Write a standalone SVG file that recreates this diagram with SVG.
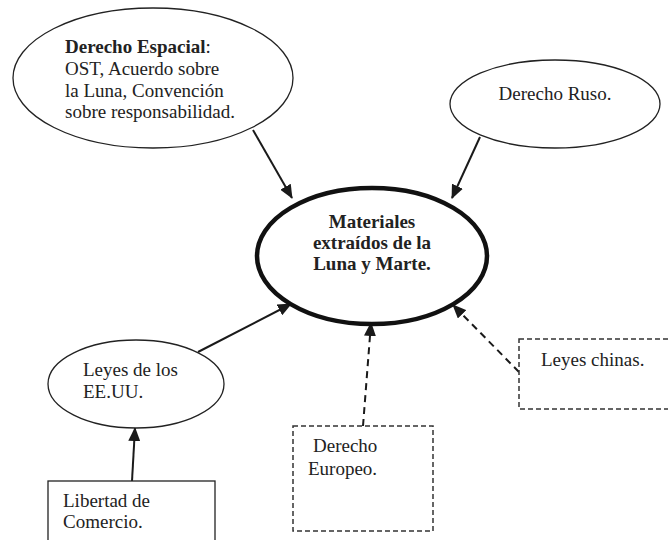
<svg xmlns="http://www.w3.org/2000/svg" width="668" height="540" viewBox="0 0 668 540">
<defs>
<marker id="ah" markerWidth="14" markerHeight="12" refX="13" refY="6" orient="auto" markerUnits="userSpaceOnUse">
<path d="M0,0 L14,6 L0,12 Z" fill="#1a1a1a"/>
</marker>
<style>
text{font-family:"Liberation Serif","Times New Roman",serif;font-size:19px;fill:#222}
.b{font-weight:bold}
.node{fill:#fff;stroke:#222;stroke-width:1.3}
.dash{fill:#fff;stroke:#333;stroke-width:1.5;stroke-dasharray:5 3}
.main{fill:#fff;stroke:#111;stroke-width:4.5}
.c{fill:none;stroke:#1a1a1a;stroke-width:2;marker-end:url(#ah)}
.cd{fill:none;stroke:#1a1a1a;stroke-width:2;stroke-dasharray:7 5;marker-end:url(#ah)}
</style>
</defs>
<rect width="668" height="540" fill="#fff"/>
<g id="connectors">
<line class="c" x1="253" y1="130" x2="292" y2="198"/>
<line class="c" x1="480" y1="137" x2="452" y2="198"/>
<line class="c" x1="198" y1="352" x2="291" y2="304"/>
<line class="c" x1="132" y1="481" x2="135" y2="428"/>
<line class="cd" x1="363" y1="426" x2="371" y2="323"/>
<line class="cd" x1="519" y1="372" x2="453" y2="305"/>
</g>
<g id="espacial">
<ellipse class="node" cx="153" cy="78" rx="140" ry="70"/>
<text x="65" y="53"><tspan class="b">Derecho Espacial</tspan>:</text>
<text x="65" y="75">OST, Acuerdo sobre</text>
<text x="65" y="97">la Luna, Convención</text>
<text x="65" y="118">sobre responsabilidad.</text>
</g>
<g id="ruso">
<ellipse class="node" cx="555" cy="104" rx="105" ry="44"/>
<text x="555" y="100" text-anchor="middle">Derecho Ruso.</text>
</g>
<g id="materiales">
<ellipse class="main" cx="372" cy="256" rx="115" ry="68"/>
<text class="b" x="372" y="228" text-anchor="middle">Materiales</text>
<text class="b" x="372" y="249" text-anchor="middle">extraídos de la</text>
<text class="b" x="372" y="270" text-anchor="middle">Luna y Marte.</text>
</g>
<g id="eeuu">
<ellipse class="node" cx="136" cy="384" rx="88" ry="44"/>
<text x="83" y="376">Leyes de los</text>
<text x="83" y="398">EE.UU.</text>
</g>
<g id="libertad">
<rect class="node" x="48" y="481" width="167" height="70"/>
<text x="63" y="507">Libertad de</text>
<text x="63" y="528">Comercio.</text>
</g>
<g id="europeo">
<rect class="dash" x="293" y="426" width="140" height="105"/>
<text x="313" y="452">Derecho</text>
<text x="308" y="475">Europeo.</text>
</g>
<g id="chinas">
<rect class="dash" x="519" y="339" width="160" height="70"/>
<text x="541" y="366">Leyes chinas.</text>
</g>
</svg>
